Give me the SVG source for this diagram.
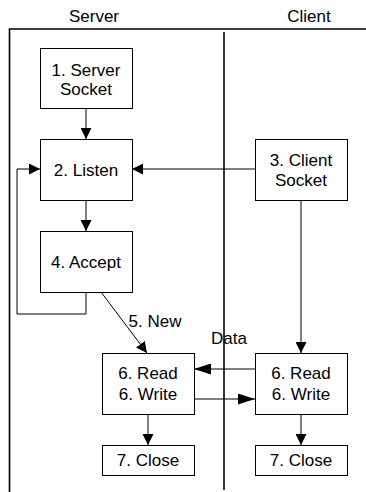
<svg xmlns="http://www.w3.org/2000/svg" width="366" height="492" viewBox="0 0 366 492">
<style>
text{font-family:"Liberation Sans",Arial,sans-serif;font-size:17px;fill:#000;text-anchor:middle}
.box{fill:#fff;stroke:#000;stroke-width:1}
.ln{fill:none;stroke:#000;stroke-width:1}
.frame{fill:none;stroke:#000;stroke-width:1.6}
</style>
<defs>
<marker id="ah" markerWidth="11" markerHeight="11" refX="11" refY="5.5" orient="auto" markerUnits="userSpaceOnUse"><path d="M0,0 L11,5.5 L0,11 Z" fill="#000"/></marker>
<marker id="ahl" markerWidth="17" markerHeight="11" refX="17" refY="5.5" orient="auto" markerUnits="userSpaceOnUse"><path d="M0,0 L17,5.5 L0,11 Z" fill="#000"/></marker>
</defs>
<g id="frame">
<path class="frame" d="M366,29 H9.5 V492"/>
<line class="frame" x1="224" y1="32" x2="224" y2="490" stroke-width="1.3"/>
<text x="94" y="22">Server</text>
<text x="309" y="22">Client</text>
</g>
<g id="connectors">
<line class="ln" x1="86" y1="108" x2="86" y2="139" marker-end="url(#ah)"/>
<line class="ln" x1="86" y1="200" x2="86" y2="231" marker-end="url(#ah)"/>
<line class="ln" x1="255" y1="169" x2="132" y2="169" marker-end="url(#ah)"/>
<path class="ln" d="M86,292 V314 H17 V169 H40" marker-end="url(#ah)"/>
<line class="ln" x1="101" y1="292" x2="147" y2="353" marker-end="url(#ah)"/>
<text x="155" y="327">5. New</text>
<line class="ln" x1="301" y1="200" x2="301" y2="353" marker-end="url(#ah)"/>
<line class="ln" x1="255" y1="369" x2="194" y2="369" marker-end="url(#ahl)"/>
<line class="ln" x1="194" y1="399" x2="255" y2="399" marker-end="url(#ahl)"/>
<text x="229" y="344">Data</text>
<line class="ln" x1="148" y1="414" x2="148" y2="445" marker-end="url(#ah)"/>
<line class="ln" x1="301" y1="414" x2="301" y2="445" marker-end="url(#ah)"/>
</g>
<g id="n1"><rect class="box" x="40.5" y="48.5" width="92" height="60"/><text x="86" y="76">1. Server</text><text x="86" y="95">Socket</text></g>
<g id="n2"><rect class="box" x="40.5" y="139.5" width="92" height="61"/><text x="86" y="176">2. Listen</text></g>
<g id="n3"><rect class="box" x="255.5" y="139.5" width="92" height="61"/><text x="301" y="166">3. Client</text><text x="301" y="186">Socket</text></g>
<g id="n4"><rect class="box" x="40.5" y="231.5" width="92" height="61"/><text x="86" y="268">4. Accept</text></g>
<g id="n6s"><rect class="box" x="102.5" y="353.5" width="92" height="61"/><text x="148" y="379">6. Read</text><text x="148" y="400">6. Write</text></g>
<g id="n6c"><rect class="box" x="255.5" y="353.5" width="92" height="61"/><text x="301" y="379">6. Read</text><text x="301" y="400">6. Write</text></g>
<g id="n7s"><rect class="box" x="102.5" y="445.5" width="92" height="30"/><text x="148" y="466">7. Close</text></g>
<g id="n7c"><rect class="box" x="255.5" y="445.5" width="92" height="30"/><text x="301" y="466">7. Close</text></g>
</svg>
